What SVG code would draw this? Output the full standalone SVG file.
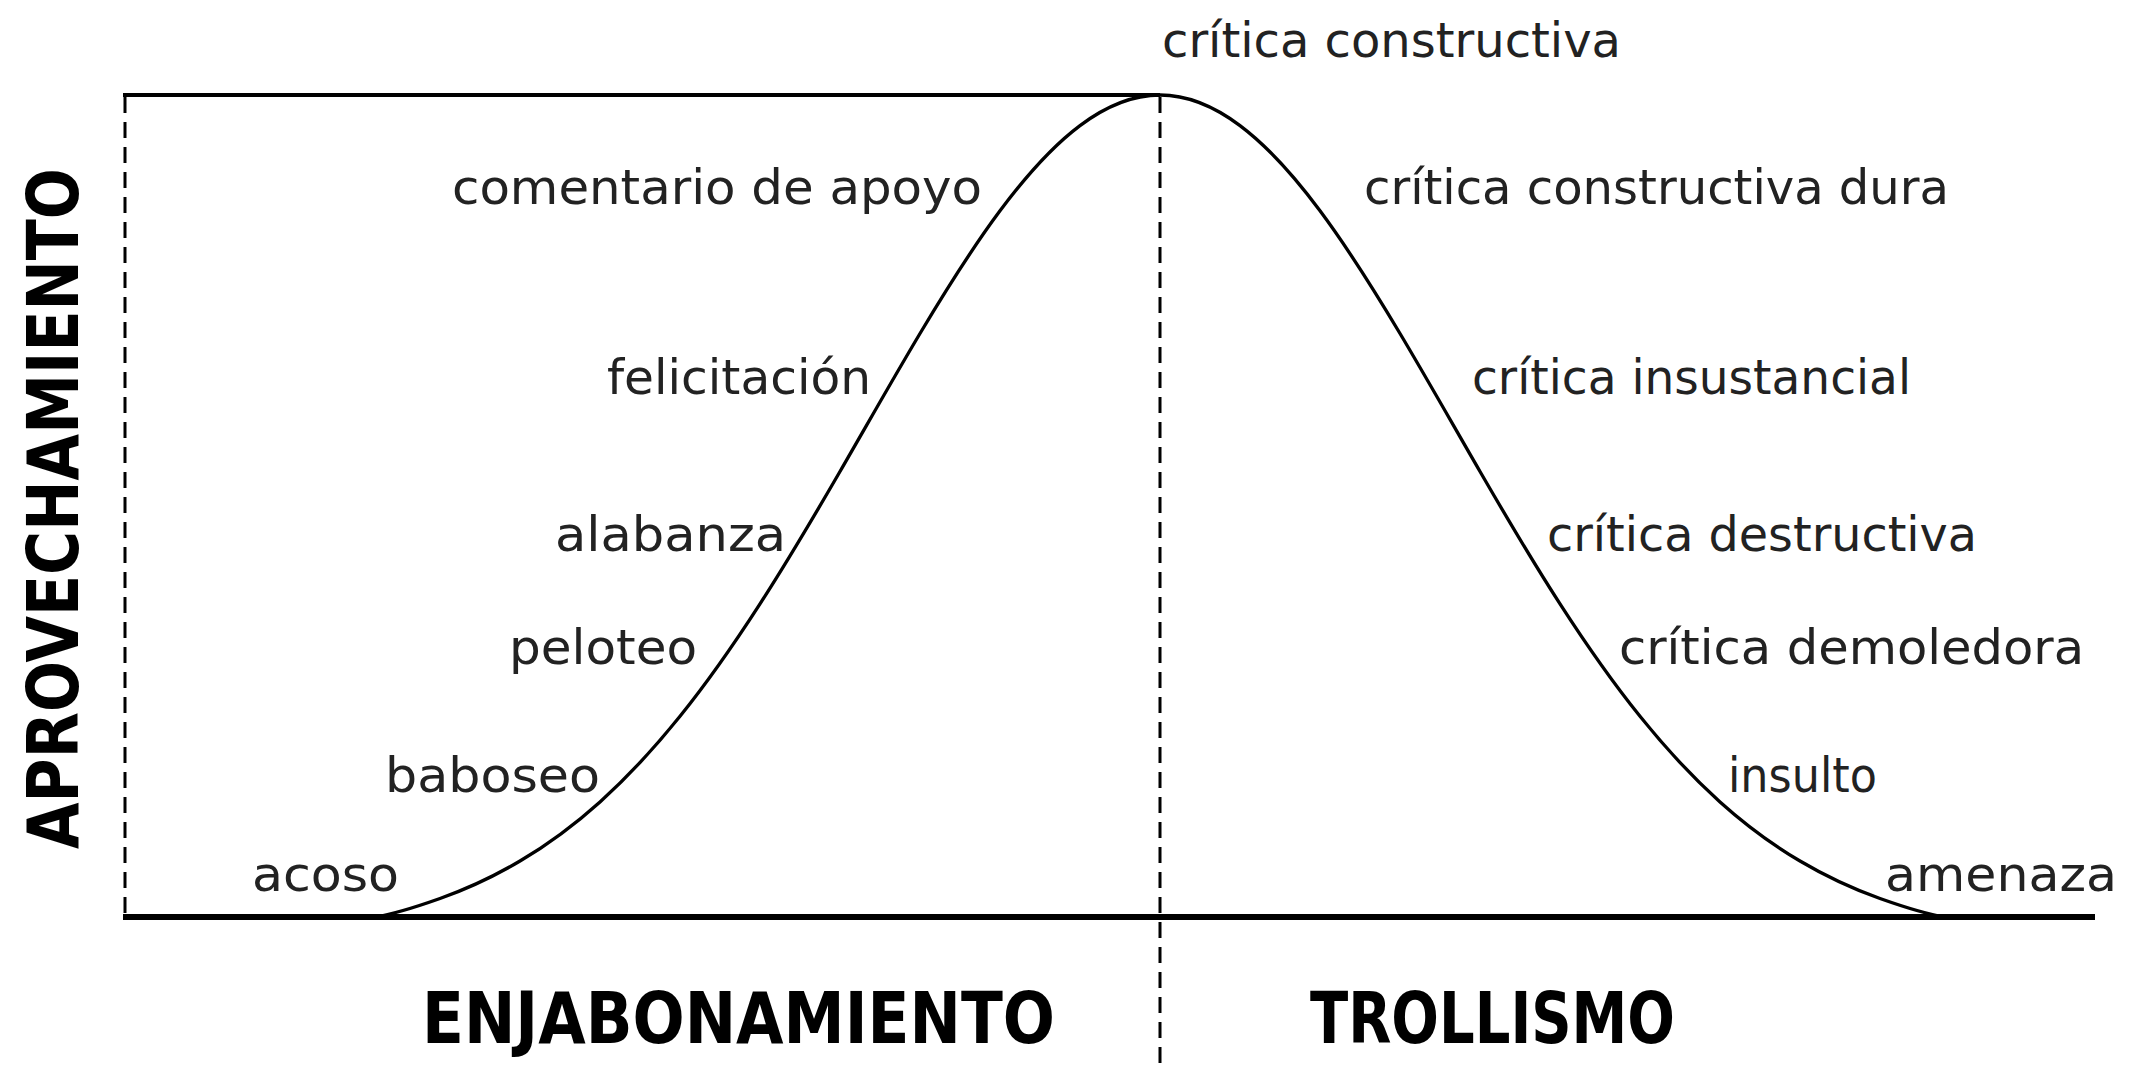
<svg xmlns="http://www.w3.org/2000/svg" width="2133" height="1072" viewBox="0 0 2133 1072">
<style>
.lbl{font-family:"DejaVu Sans","Liberation Sans",sans-serif;font-size:48px;fill:#222;}
.ttl{font-family:"DejaVu Sans","Liberation Sans",sans-serif;font-size:72px;font-weight:bold;fill:#000;}
.axis{stroke:#000;fill:none;}
.dash{stroke:#000;stroke-width:3;stroke-dasharray:16 9;fill:none;}
</style>
<rect width="2133" height="1072" fill="#fff"/>
<g id="connectors">
<line class="dash" x1="125" y1="97" x2="125" y2="915"/>
<line class="dash" x1="1160" y1="97" x2="1160" y2="1072"/>
<line class="axis" x1="123" y1="95" x2="1160" y2="95" stroke-width="4"/>
<line class="axis" x1="123" y1="917" x2="2095" y2="917" stroke-width="6"/>
<path class="axis" stroke-width="3.3" d="M375,917 C396.7,913.7 418.3,906.2 440,898.5 C466.7,889 493.3,876.8 520,861 C546.7,845.2 573.3,825.9 600,801.9 C626.7,777.9 653.3,749.5 680,716.3 C706.7,683.2 733.3,645.3 760,603.9 C786.7,562.5 813.3,517.6 840,471.5 C866.7,425.4 893.3,378.2 920,333.5 C946.7,288.8 973.3,246.6 1000,210.8 C1026.7,175 1053.3,145.6 1080,125.6 C1106.7,105.6 1133.3,95 1160,95 C1186.7,95 1213.3,105.6 1240,125.6 C1266.7,145.6 1293.3,175 1320,210.8 C1346.7,246.6 1373.3,288.8 1400,333.5 C1426.7,378.2 1453.3,425.4 1480,471.5 C1506.7,517.6 1533.3,562.5 1560,603.9 C1586.7,645.3 1613.3,683.2 1640,716.3 C1666.7,749.5 1693.3,777.9 1720,801.9 C1746.7,825.9 1773.3,845.2 1800,861 C1826.7,876.8 1853.3,889 1880,898.5 C1901.7,906.2 1923.3,913.7 1945,917"/>
</g>
<g id="axis-y"><text class="ttl" transform="translate(78,849) rotate(-90)" textLength="681" lengthAdjust="spacingAndGlyphs">APROVECHAMIENTO</text></g>
<g id="axis-left"><text class="ttl" x="422" y="1043" textLength="633" lengthAdjust="spacingAndGlyphs">ENJABONAMIENTO</text></g>
<g id="axis-right"><text class="ttl" x="1310" y="1043" textLength="365" lengthAdjust="spacingAndGlyphs">TROLLISMO</text></g>
<g id="n-comentario"><text class="lbl" x="452" y="204" textLength="530" lengthAdjust="spacingAndGlyphs">comentario de apoyo</text></g>
<g id="n-felicitacion"><text class="lbl" x="607" y="394" textLength="264" lengthAdjust="spacingAndGlyphs">felicitación</text></g>
<g id="n-alabanza"><text class="lbl" x="555" y="551" textLength="231" lengthAdjust="spacingAndGlyphs">alabanza</text></g>
<g id="n-peloteo"><text class="lbl" x="509" y="664" textLength="188" lengthAdjust="spacingAndGlyphs">peloteo</text></g>
<g id="n-baboseo"><text class="lbl" x="385" y="792" textLength="215" lengthAdjust="spacingAndGlyphs">baboseo</text></g>
<g id="n-acoso"><text class="lbl" x="252" y="891" textLength="147" lengthAdjust="spacingAndGlyphs">acoso</text></g>
<g id="n-critica-constructiva"><text class="lbl" x="1162" y="57" textLength="459" lengthAdjust="spacingAndGlyphs">crítica constructiva</text></g>
<g id="n-critica-dura"><text class="lbl" x="1364" y="204" textLength="585" lengthAdjust="spacingAndGlyphs">crítica constructiva dura</text></g>
<g id="n-critica-insustancial"><text class="lbl" x="1472" y="394" textLength="439" lengthAdjust="spacingAndGlyphs">crítica insustancial</text></g>
<g id="n-critica-destructiva"><text class="lbl" x="1547" y="551" textLength="430" lengthAdjust="spacingAndGlyphs">crítica destructiva</text></g>
<g id="n-critica-demoledora"><text class="lbl" x="1619" y="664" textLength="465" lengthAdjust="spacingAndGlyphs">crítica demoledora</text></g>
<g id="n-insulto"><text class="lbl" x="1728" y="792" textLength="149" lengthAdjust="spacingAndGlyphs">insulto</text></g>
<g id="n-amenaza"><text class="lbl" x="1885" y="891" textLength="232" lengthAdjust="spacingAndGlyphs">amenaza</text></g>
</svg>
